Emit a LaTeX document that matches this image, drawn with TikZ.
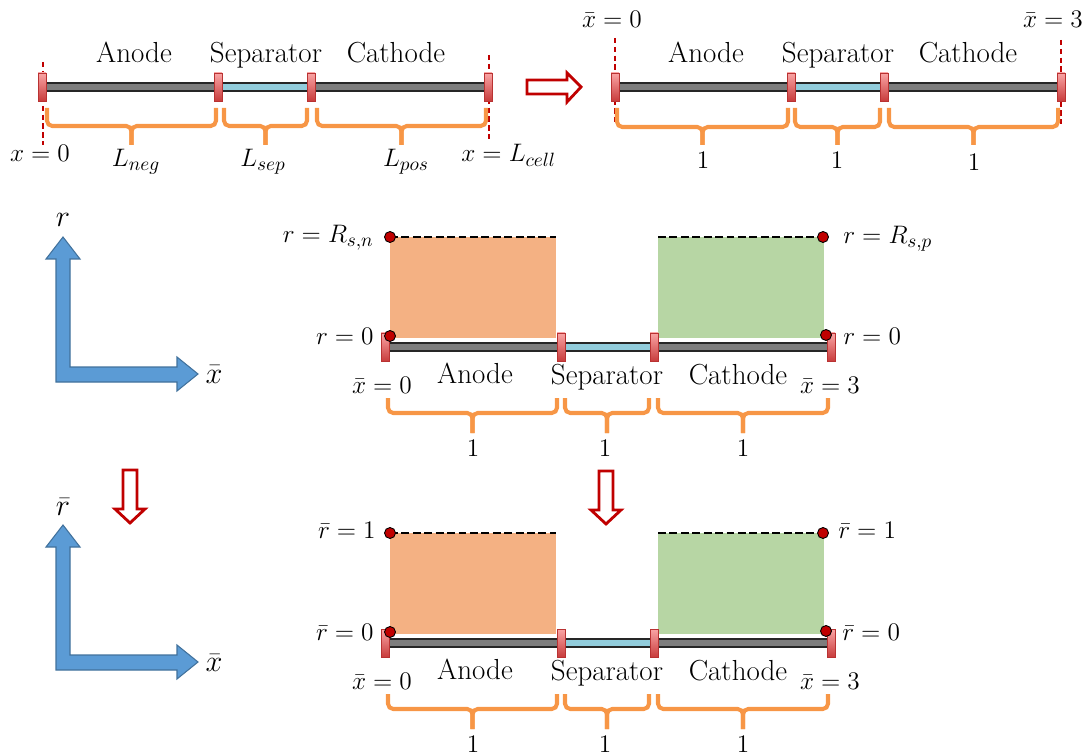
\documentclass[tikz,border=0pt]{standalone}
\definecolor{capred}{RGB}{200,60,60}
\definecolor{caplight}{RGB}{250,165,165}
\definecolor{capedge}{RGB}{185,50,50}
\definecolor{sepblue}{RGB}{146,205,220}
\definecolor{braceor}{RGB}{247,150,70}
\definecolor{anodefill}{RGB}{244,177,131}
\definecolor{cathfill}{RGB}{183,214,164}
\definecolor{axblue}{RGB}{91,155,213}
\definecolor{axedge}{RGB}{65,113,156}
\definecolor{darkred}{RGB}{192,0,0}
\definecolor{bargray}{RGB}{125,125,125}
\tikzset{
  capst/.style={draw=capedge, line width=0.5pt, top color=caplight, bottom color=capred},
  barst/.style={draw=black!85, line width=0.8pt, fill=bargray},
  sepst/.style={draw=black!85, line width=0.8pt, fill=sepblue},
  bracest/.style={draw=braceor, line width=2.3pt, rounded corners=3pt},
  reddash/.style={draw=darkred, line width=0.9pt, dash pattern=on 3pt off 2pt},
  blkdash/.style={draw=black, line width=1.5pt, dash pattern=on 4.5pt off 2pt},
  dotst/.style={circle, fill=darkred, draw=black, line width=0.5pt, minimum size=0.22cm, inner sep=0pt},
  txt/.style={font=\fontsize{16.5}{19}\selectfont, inner sep=0pt, anchor=base},
  mtxt/.style={font=\fontsize{15.5}{18}\selectfont, inner sep=0pt, anchor=base},
  axtxt/.style={font=\fontsize{17}{20}\selectfont, inner sep=0pt, anchor=base},
  blockarrow/.style={draw=darkred, line width=1.6pt, fill=white, line join=miter},
  axarrow/.style={fill=axblue, draw=axedge, line width=0.6pt},
}
\newcommand\capat[2]{\draw[capst] (#1-4,#2-14) rectangle (#1+4,#2+14);}
\newcommand\cellbar[2]{%
  \draw[barst] (#1,#2-4) rectangle (#1+176,#2+4);
  \draw[sepst] (#1+176,#2-4) rectangle (#1+269,#2+4);
  \draw[barst] (#1+269,#2-4) rectangle (#1+446,#2+4);
  \capat{#1}{#2}\capat{#1+176}{#2}\capat{#1+269}{#2}\capat{#1+446}{#2}}
\newcommand\brc[5]{%
  \draw[bracest] (#1,#3) |- ({(#1+#2)/2},#4) -- ({(#1+#2)/2},#5);
  \draw[bracest] (#2,#3) |- ({(#1+#2)/2},#4) -- ({(#1+#2)/2},#5);}
\newcommand\axesat[1]{%
  \draw[axarrow] (56,#1+382) -- (56,#1+259) -- (46,#1+259) -- (63,#1+237) -- (80,#1+259)
    -- (70,#1+259) -- (70,#1+367) -- (177,#1+367) -- (177,#1+357) -- (198,#1+374)
    -- (177,#1+391) -- (177,#1+382) -- cycle;}
\newcommand\downarrowat[2]{%
  \draw[blockarrow] (#1-7,#2) -- (#1+7,#2) -- (#1+7,#2+39) -- (#1+15,#2+39) -- (#1,#2+53)
    -- (#1-15,#2+39) -- (#1-7,#2+39) -- cycle;}
\begin{document}
\begin{tikzpicture}[x=0.02cm, y=-0.02cm]
\useasboundingbox (0,0) rectangle (1087,756);

% ---------- top left ----------
\draw[reddash] (43,62) -- (43,145);
\draw[reddash] (489,55) -- (489,140);
\cellbar{42}{87}
\brc{47}{216}{108}{126}{145}
\brc{224}{307}{108}{126}{145}
\brc{317}{486}{108}{126}{145}
\node[txt] (tlA) at (134,63) {Anode};
\node[txt] (tlS) at (266,63) {Separator};
\node[txt] (tlC) at (396,63) {Cathode};
\node[mtxt] (tlx0) at (40,162) {$x=0$};
\node[mtxt] (tlLn) at (136,167) {$L_{neg}$};
\node[mtxt] (tlLs) at (263,167) {$L_{sep}$};
\node[mtxt] (tlLp) at (406,167) {$L_{pos}$};
\node[mtxt, anchor=base west] (tlxL) at (461,162) {$x=L_{cell}$};

% arrow right
\draw[blockarrow] (527,80) -- (567,80) -- (567,73) -- (581,87) -- (567,102) -- (567,94) -- (527,94) -- cycle;

% ---------- top right ----------
\draw[reddash] (615,38) -- (615,124);
\draw[reddash] (1061,40) -- (1061,126);
\cellbar{615}{87}
\brc{617}{788}{108}{127}{145}
\brc{795}{880}{108}{127}{145}
\brc{889}{1058}{108}{127}{145}
\node[txt] (trA) at (706,63) {Anode};
\node[txt] (trS) at (838,63) {Separator};
\node[txt] (trC) at (968,63) {Cathode};
\node[mtxt] (trx0) at (612,28) {$\bar{x}=0$};
\node[mtxt] (trx3) at (1053,28) {$\bar{x}=3$};
\node[mtxt] (tr1a) at (703,169) {$1$};
\node[mtxt] (tr1b) at (837,169) {$1$};
\node[mtxt] (tr1c) at (974,171) {$1$};

% ---------- left axes ----------
\axesat{0}
\node[axtxt] (axr) at (63,227) {$r$};
\node[axtxt] (axx) at (214,383) {$\bar{x}$};
\downarrowat{130}{470}
\axesat{288}
\node[axtxt] (axrb) at (63,515) {$\bar{r}$};
\node[axtxt] (axxb) at (214,671) {$\bar{x}$};

% ---------- middle panel ----------
\fill[anodefill] (390,237) rectangle (556,338);
\fill[cathfill] (658,237) rectangle (824,338);
\draw[blkdash] (390,237) -- (556,237);
\draw[blkdash] (658,237) -- (823,237);
\cellbar{385}{347}
\node[dotst] (m1) at (390,237) {};
\node[dotst] (m2) at (390,336) {};
\node[dotst] (m3) at (823,237) {};
\node[dotst] (m4) at (826,335) {};
\brc{388}{557}{398}{413}{433}
\brc{565}{649}{398}{413}{433}
\brc{658}{828}{398}{413}{433}
\node[mtxt, anchor=base east] (mrR) at (374,243) {$r=R_{s,n}$};
\node[mtxt, anchor=base east] (mr0) at (374,344) {$r=0$};
\node[mtxt, anchor=base west] (mrRp) at (843,244) {$r=R_{s,p}$};
\node[mtxt, anchor=base west] (mr0p) at (843,344) {$r=0$};
\node[mtxt] (mx0) at (382,393) {$\bar{x}=0$};
\node[mtxt] (mx3) at (830,393) {$\bar{x}=3$};
\node[txt] (mA) at (475,383) {Anode};
\node[txt] (mS) at (607,384) {Separator};
\node[txt] (mC) at (738,384) {Cathode};
\node[mtxt] (m1a) at (473,456) {$1$};
\node[mtxt] (m1b) at (605,456) {$1$};
\node[mtxt] (m1c) at (743,456) {$1$};

\downarrowat{606}{471}

% ---------- bottom panel ----------
\fill[anodefill] (390,533) rectangle (556,634);
\fill[cathfill] (658,533) rectangle (824,634);
\draw[blkdash] (390,533) -- (556,533);
\draw[blkdash] (658,533) -- (823,533);
\cellbar{385}{643}
\node[dotst] (b1) at (390,533) {};
\node[dotst] (b2) at (390,632) {};
\node[dotst] (b3) at (823,533) {};
\node[dotst] (b4) at (826,631) {};
\brc{388}{557}{694}{709}{729}
\brc{565}{649}{694}{709}{729}
\brc{658}{828}{694}{709}{729}
\node[mtxt, anchor=base east] (br1) at (376,538) {$\bar{r}=1$};
\node[mtxt, anchor=base east] (br0) at (374,640) {$\bar{r}=0$};
\node[mtxt, anchor=base west] (br1p) at (838,538) {$\bar{r}=1$};
\node[mtxt, anchor=base west] (br0p) at (842,640) {$\bar{r}=0$};
\node[mtxt] (bx0) at (382,689) {$\bar{x}=0$};
\node[mtxt] (bx3) at (830,689) {$\bar{x}=3$};
\node[txt] (bA) at (475,679) {Anode};
\node[txt] (bS) at (607,680) {Separator};
\node[txt] (bC) at (738,680) {Cathode};
\node[mtxt] (b1a) at (473,752) {$1$};
\node[mtxt] (b1b) at (605,752) {$1$};
\node[mtxt] (b1c) at (743,752) {$1$};
\end{tikzpicture}
\end{document}
